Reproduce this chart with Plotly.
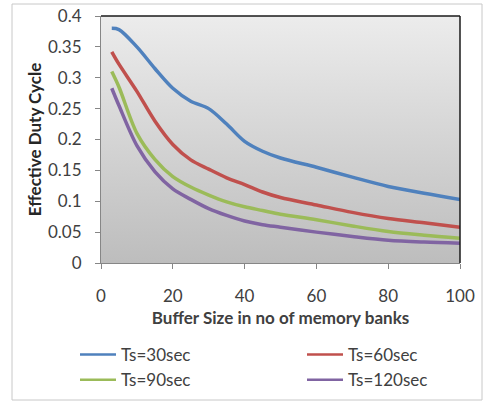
import base64
import plotly.graph_objects as go

# Effective duty cycle vs buffer size for several sampling periods
buffer_banks = [3, 5, 10, 15, 20, 25, 30, 35, 40, 45, 50, 60, 70, 80, 90, 100]

ts30 = [0.380, 0.378, 0.350, 0.315, 0.283, 0.262, 0.250, 0.225, 0.197, 0.181, 0.170, 0.155, 0.139, 0.124, 0.113, 0.103]
ts60 = [0.342, 0.322, 0.278, 0.230, 0.192, 0.167, 0.152, 0.138, 0.127, 0.115, 0.106, 0.094, 0.082, 0.072, 0.065, 0.058]
ts90 = [0.310, 0.285, 0.210, 0.168, 0.140, 0.123, 0.110, 0.099, 0.091, 0.085, 0.079, 0.070, 0.060, 0.051, 0.045, 0.040]
ts120 = [0.283, 0.255, 0.190, 0.148, 0.120, 0.103, 0.088, 0.077, 0.068, 0.062, 0.058, 0.050, 0.043, 0.037, 0.034, 0.032]

series_names = ["Ts=30sec", "Ts=60sec", "Ts=90sec", "Ts=120sec"]
series_values = [ts30, ts60, ts90, ts120]
series_colors = ["#4F81BD", "#C0504D", "#9BBB59", "#8064A2"]
# legend column for each series (two columns, two rows)
series_legend = ["legend", "legend2", "legend", "legend2"]

x_ticks = [0, 20, 40, 60, 80, 100]
y_ticks = [0, 0.05, 0.1, 0.15, 0.2, 0.25, 0.3, 0.35, 0.4]
y_tick_text = ["0", "0.05", "0.1", "0.15", "0.2", "0.25", "0.3", "0.35", "0.4"]

X_MAX = 100
Y_MAX = 0.4

FONT = "Lato, 'Open Sans', sans-serif"

# page geometry (pixels)
W, H = 483, 401
L, R, T, B = 101, 23, 16, 138
PW, PH = W - L - R, H - T - B


def px_x(p):
    return (p - L) / PW


def px_y(p):
    return (H - B - p) / PH


# vertical grey gradient for the plot area
gradient_svg = (
    "<svg xmlns='http://www.w3.org/2000/svg' width='10' height='100' "
    "preserveAspectRatio='none'><defs><linearGradient id='g' x1='0' y1='0' "
    "x2='0' y2='1'><stop offset='0' stop-color='#ececec'/>"
    "<stop offset='1' stop-color='#bdbdbd'/></linearGradient></defs>"
    "<rect width='10' height='100' fill='url(#g)'/></svg>"
)
gradient_uri = "data:image/svg+xml;base64," + base64.b64encode(
    gradient_svg.encode()).decode()

fig = go.Figure()

for name, vals, col in zip(series_names, series_values, series_colors):
    fig.add_trace(go.Scatter(
        x=buffer_banks, y=vals, mode="lines", name=name,
        line=dict(color=col, width=3.5, shape="spline", smoothing=0.9),
        showlegend=False,
    ))

# legend entries with thinner sample lines
for name, col, leg in zip(series_names, series_colors, series_legend):
    fig.add_trace(go.Scatter(
        x=[None], y=[None], mode="lines", name=name,
        line=dict(color=col, width=2.5),
        legend=leg, legendgroup=name,
    ))

shapes = [
    # outer chart border
    dict(type="rect", xref="paper", yref="paper",
         x0=px_x(12), x1=px_x(482), y0=px_y(400), y1=px_y(4),
         line=dict(color="#c8c8c8", width=1), layer="below"),
    # plot-area frame (top and right)
    dict(type="line", xref="paper", yref="paper", x0=0, x1=1, y0=1, y1=1,
         line=dict(color="#1a1a1a", width=1.5)),
    dict(type="line", xref="paper", yref="paper", x0=1, x1=1, y0=0, y1=1,
         line=dict(color="#1a1a1a", width=1.5)),
]

legend_style = dict(
    orientation="v",
    xanchor="left", yanchor="top",
    y=px_y(337),
    itemwidth=36,
    tracegroupgap=3,
    font=dict(size=17, color="#404040", family=FONT),
    bgcolor="rgba(0,0,0,0)",
    traceorder="normal",
)

fig.update_layout(
    width=W, height=H,
    margin=dict(l=L, r=R, t=T, b=B, autoexpand=False),
    paper_bgcolor="white",
    plot_bgcolor="rgba(0,0,0,0)",
    font=dict(family=FONT, color="#404040"),
    shapes=shapes,
    images=[dict(source=gradient_uri, xref="paper", yref="paper",
                 x=0, y=1, sizex=1, sizey=1, xanchor="left", yanchor="top",
                 sizing="stretch", layer="below")],
    showlegend=True,
    legend=dict(x=px_x(75), **legend_style),
    legend2=dict(x=px_x(302), **legend_style),
)

fig.update_xaxes(
    range=[0, X_MAX], tickvals=x_ticks,
    showgrid=False, zeroline=False,
    showline=True, linecolor="#868686", linewidth=1,
    ticks="outside", ticklen=5, tickcolor="#868686",
    ticklabelstandoff=13,
    tickfont=dict(size=17, color="#404040"),
    title=dict(text="<b>Buffer Size in no of memory banks</b>",
               font=dict(size=17, color="#404040"), standoff=6),
)

fig.update_yaxes(
    range=[0, Y_MAX], tickvals=y_ticks, ticktext=y_tick_text,
    showgrid=False, zeroline=False,
    showline=True, linecolor="#868686", linewidth=1,
    ticks="outside", ticklen=5, tickcolor="#868686",
    ticklabelstandoff=10,
    tickfont=dict(size=17, color="#404040"),
    title=dict(text="<b>Effective Duty Cycle</b>",
               font=dict(size=17, color="#262626"), standoff=2),
)

fig.write_html("out.html")
